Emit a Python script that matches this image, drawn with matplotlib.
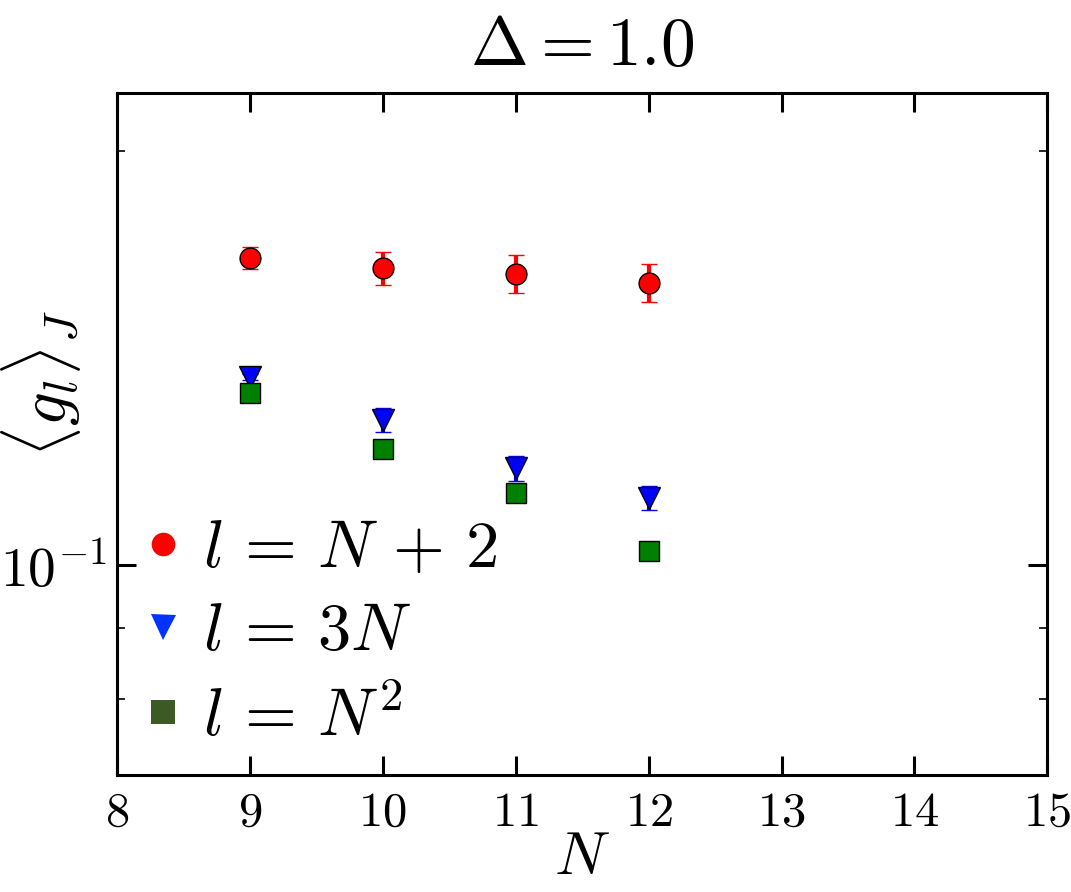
import numpy as np
import matplotlib
matplotlib.use('Agg')
import matplotlib.pyplot as plt
from matplotlib.lines import Line2D
from matplotlib.ticker import NullFormatter, MultipleLocator

plt.rcParams["mathtext.fontset"] = "cm"
plt.rcParams["font.family"] = "serif"
plt.rcParams["font.serif"] = ["cmr10"]
plt.rcParams["axes.formatter.use_mathtext"] = True

# data
N = [9, 10, 11, 12]
g_np2 = [0.1672, 0.1644, 0.1628, 0.1604]
g_np2_err = [0.0031, 0.0046, 0.0051, 0.0051]
g_3n = [0.1370, 0.1275, 0.1176, 0.1119]
g_3n_err = [0.0007, 0.0026, 0.0024, 0.0023]
g_n2 = [0.1334, 0.1214, 0.1128, 0.1024]
g_n2_err = [0.0004, 0.0004, 0.0005, 0.0004]

labels = [r"$l\,=\,N\,+\,2$", r"$l\,=\,3N$", r"$l\,=\,N^2$"]

fig = plt.figure(figsize=(10.71, 8.92), dpi=100)
ax = fig.add_axes([0.109, 0.131, 0.869, 0.765])

ax.errorbar(N, g_np2, yerr=g_np2_err, fmt='o', color='r', ecolor='r',
            elinewidth=3, capsize=6, capthick=2, ms=15, mec='k', mew=1)
ax.errorbar(N, g_3n, yerr=g_3n_err, fmt='v', color='b', ecolor='b',
            elinewidth=3, capsize=6, capthick=2, ms=16, mec='k', mew=1)
ax.errorbar(N, g_n2, yerr=g_n2_err, fmt='s', color='g', ecolor='g',
            elinewidth=3, capsize=6, capthick=2, ms=15, mec='k', mew=1)

ax.set_yscale('log')
ax.set_xlim(8, 15)
ax.set_ylim(0.0704, 0.2204)
ax.xaxis.set_major_locator(MultipleLocator(1))
ax.yaxis.set_minor_formatter(NullFormatter())

ax.tick_params(which='both', direction='in', top=True, right=True, pad=7)
ax.tick_params(axis='y', labelsize=40)
ax.tick_params(axis='x', labelsize=35, pad=12)
ax.tick_params(which='major', length=14, width=2.2)
ax.tick_params(which='minor', length=6, width=1.2)
for sp in ax.spines.values():
    sp.set_linewidth(2.2)

ax.set_title(r"$\Delta = 1.0$", fontsize=50, pad=20)
ax.set_xlabel(r"$N$", fontsize=44, labelpad=-4)
ax.set_ylabel(r"$\langle g_l \rangle_J$", fontsize=48)
ax.yaxis.set_label_coords(-0.036, 0.575)

handles = [
    Line2D([], [], ls='none', marker='o', color='#ff0000', ms=17, mew=0),
    Line2D([], [], ls='none', marker='v', color='#0033ff', ms=18, mew=0),
    Line2D([], [], ls='none', marker='s', color='#3b5a25', ms=17, mew=0),
]
ax.legend(handles, labels, loc='lower left', bbox_to_anchor=(0.0, 0.0),
          frameon=False, fontsize=48, numpoints=1, handlelength=0.6,
          handletextpad=0.3, labelspacing=0.35, borderaxespad=0.1,
          borderpad=0.3)

fig.savefig('out.png', dpi=100)
